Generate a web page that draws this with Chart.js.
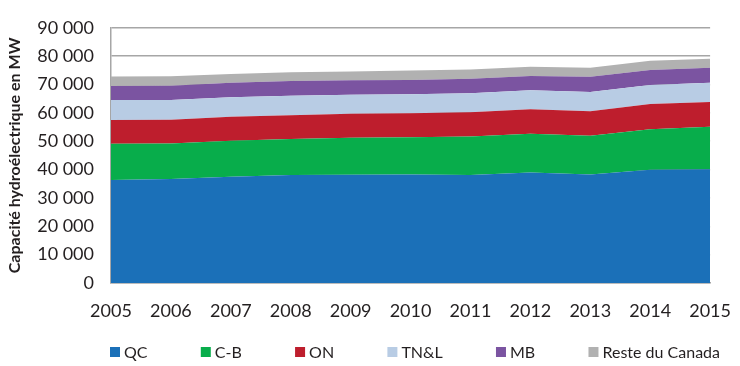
<!DOCTYPE html>
<html>
<head>
<meta charset="utf-8">
<script src="https://cdn.jsdelivr.net/npm/chart.js@4.4.1/dist/chart.umd.min.js"></script>
<style>
  html, body { margin: 0; padding: 0; background: #fff; }
  #wrap { width: 740px; height: 366px; }
</style>
</head>
<body>
<div id="wrap"><canvas id="chart" width="740" height="366"></canvas></div>
<script>
// années
const years = ['2005', '2006', '2007', '2008', '2009', '2010', '2011', '2012', '2013', '2014', '2015'];

// capacité hydroélectrique par province, MW
const qc    = [36300, 36700, 37500, 38100, 38200, 38300, 38100, 39000, 38300, 39900, 40100];
const cb    = [12800, 12500, 12700, 12700, 13000, 13100, 13600, 13600, 13600, 14300, 15000];
const on    = [8400, 8400, 8400, 8400, 8500, 8500, 8500, 8700, 8700, 8900, 8700];
const tnl   = [7000, 6900, 6900, 6800, 6700, 6700, 6700, 6700, 6800, 6700, 6800];
const mb    = [5000, 5100, 5100, 5200, 5100, 5000, 5100, 5000, 5300, 5300, 5300];
const reste = [3300, 3300, 3100, 3100, 3100, 3300, 3300, 3300, 3200, 3300, 3200];

const yTicks = [0, 10000, 20000, 30000, 40000, 50000, 60000, 70000, 80000, 90000];

const FONT = 'Lato, "Open Sans", sans-serif';
const TEXT = '#231f20';
const GRID = '#a6a6a6';

function fmt(v) {
  return String(v).replace(/\B(?=(\d{3})+(?!\d))/g, ' ');
}

function area(label, data, color, fill) {
  return {
    label: label,
    data: data,
    backgroundColor: color,
    borderColor: color,
    borderWidth: 0,
    pointRadius: 0,
    pointHoverRadius: 0,
    fill: fill,
    tension: 0
  };
}

// légende dessinée à la main : une ligne, étalée de 110 à 720 px
const bottomLegend = {
  id: 'bottomLegend',
  afterDraw(chart) {
    const ctx = chart.ctx;
    const items = chart.data.datasets;
    const left = 110, right = 720, y = 352, box = 10, gapText = 4;
    ctx.save();
    ctx.font = '16px ' + FONT;
    ctx.textBaseline = 'middle';
    const widths = items.map(ds => box + gapText + ctx.measureText(ds.label).width);
    const gap = (right - left - widths.reduce((a, b) => a + b, 0)) / (items.length - 1);
    let x = left;
    items.forEach((ds, i) => {
      ctx.fillStyle = ds.backgroundColor;
      ctx.fillRect(x, y - box / 2, box, box);
      ctx.fillStyle = TEXT;
      ctx.fillText(ds.label, x + box + gapText, y + 1);
      x += widths[i] + gap;
    });
    ctx.restore();
  }
};

new Chart(document.getElementById('chart'), {
  type: 'line',
  data: {
    labels: years,
    datasets: [
      area('QC', qc, '#1b70b8', 'origin'),
      area('C-B', cb, '#08ad4b', '-1'),
      area('ON', on, '#be1e2d', '-1'),
      area('TN&L', tnl, '#b8cce4', '-1'),
      area('MB', mb, '#7b54a1', '-1'),
      area('Reste du Canada', reste, '#b1b1b1', '-1')
    ]
  },
  options: {
    responsive: false,
    animation: false,
    layout: { padding: { left: 0, right: 27, top: 15, bottom: 47 } },
    plugins: {
      legend: { display: false },
      tooltip: { enabled: false }
    },
    scales: {
      x: {
        offset: false,
        grid: { display: false },
        border: { display: true, color: GRID, width: 1.5 },
        ticks: { font: { family: FONT, size: 18 }, color: TEXT, padding: 9, maxRotation: 0 },
        afterFit: s => { s.height = 36; }
      },
      y: {
        stacked: true,
        min: 0,
        max: 90000,
        afterBuildTicks: s => { s.ticks = yTicks.map(v => ({ value: v })); },
        grid: { color: GRID, lineWidth: 1.5, drawTicks: false },
        border: { display: true, color: GRID, width: 1.5 },
        ticks: {
          font: { family: FONT, size: 18 },
          color: TEXT,
          padding: 17,
          callback: v => fmt(v)
        },
        title: {
          display: true,
          text: 'Capacité hydroélectrique en MW',
          font: { family: FONT, size: 16, weight: 'bold' },
          color: TEXT,
          padding: { top: 5, bottom: 4 }
        },
        afterFit: s => { s.width = 111; }
      }
    }
  },
  plugins: [bottomLegend]
});
</script>
</body>
</html>
